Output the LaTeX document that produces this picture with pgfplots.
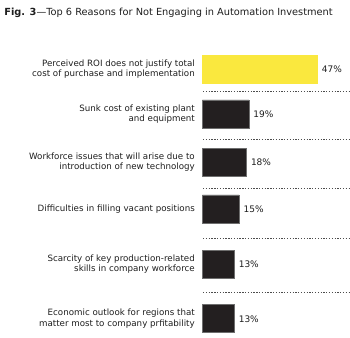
\documentclass[border=0pt]{standalone}
\usepackage{pgfplots}
\pgfplotsset{compat=1.18}
\usepackage{fontspec}
\setmainfont{DejaVu Sans}
\definecolor{ybar}{RGB}{250,232,62}
\definecolor{dbar}{RGB}{35,31,32}
\definecolor{dborder}{RGB}{110,110,110}
\definecolor{txt}{RGB}{30,30,30}
\tikzset{lbl/.style={anchor=east, align=right, font=\fontsize{8.7}{10.4}\selectfont, text=txt, inner sep=0pt}}
\begin{document}
\begin{tikzpicture}
\begin{axis}[
  width=350pt, height=338pt, scale only axis,
  xmin=-82.65, xmax=60.2,
  ymin=0, ymax=338, y dir=reverse,
  hide axis,
  clip=false,
  /pgf/number format/assume math mode=true,
  xbar, bar width=28pt, bar shift=0pt,
  nodes near coords={\pgfmathprintnumber{\pgfplotspointmeta}\%},
  nodes near coords align={horizontal},
  every node near coord/.append style={font=\fontsize{9}{11}\selectfont, text=txt, anchor=west, xshift=1pt},
]
\path (rel axis cs:0,0) (rel axis cs:1,1);
\addplot[fill=ybar, draw=ybar] coordinates {(47,69)};
\addplot[fill=dbar, draw=dborder, line width=0.6pt] coordinates {(19,114) (18,162.5) (15,209) (13,264.5) (13,319)};
\foreach \yy in {91,139,188,238,293} {
  \edef\tmp{\noexpand\draw[gray!60!black, dash pattern=on 1.3pt off 1.5pt, line width=0.6pt] (axis cs:0.3,\yy) -- (axis cs:60.2,\yy);}
  \tmp
}
\node[lbl] at (axis cs:-3,69) {Perceived ROI does not justify total\\cost of purchase and implementation};
\node[lbl] at (axis cs:-3,114) {Sunk cost of existing plant\\and equipment};
\node[lbl] at (axis cs:-3,162.5) {Workforce issues that will arise due to\\introduction of new technology};
\node[lbl] at (axis cs:-3,209) {Difficulties  in filling vacant positions};
\node[lbl] at (axis cs:-3,264.5) {Scarcity of key production-related\\skills in company workforce};
\node[lbl] at (axis cs:-3,319) {Economic outlook for regions that\\matter most to company prfitability};
\node[anchor=west, inner sep=0pt, font=\fontsize{9.8}{12}\selectfont, text=txt] at (rel axis cs:0.012,0.962) {\textbf{Fig. 3}---Top 6 Reasons for Not Engaging in Automation Investment};
\end{axis}
\end{tikzpicture}
\end{document}
